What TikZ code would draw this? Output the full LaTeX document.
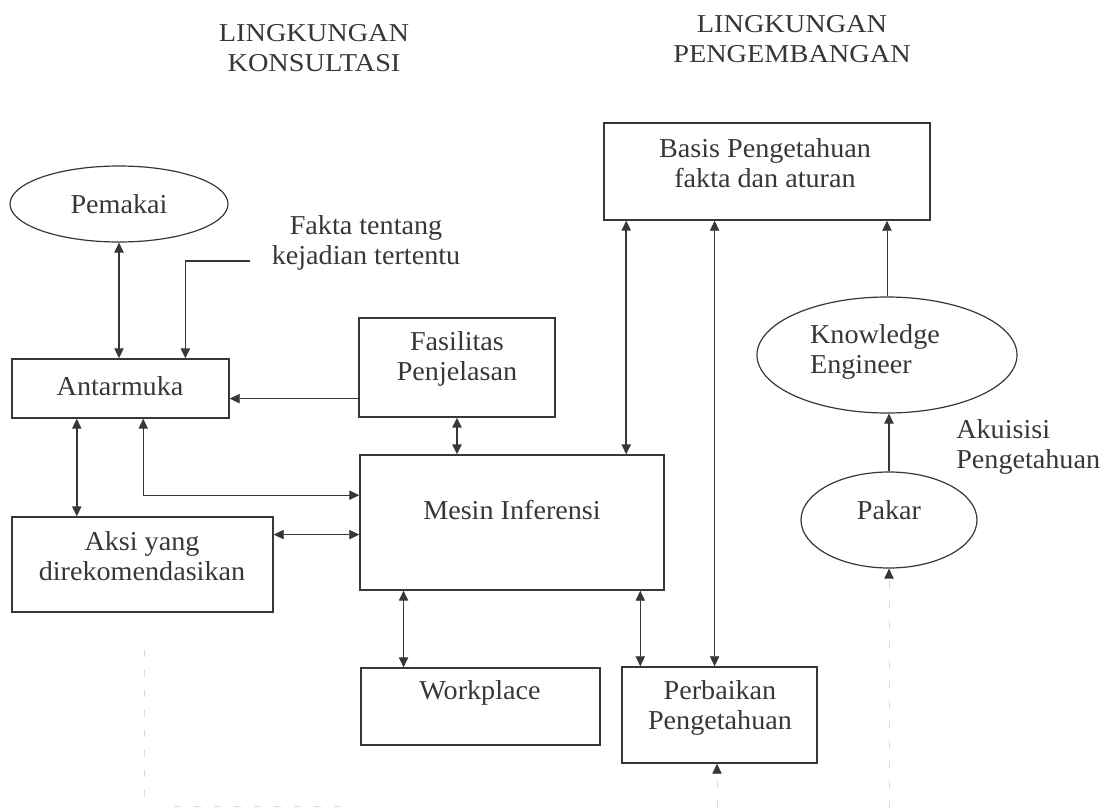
\documentclass[tikz,border=0pt]{standalone}
\usepackage{fontspec}
\setmainfont{Liberation Serif}[FakeStretch=1.03]
\newfontfamily\headfont{Liberation Serif}[FakeStretch=1.1]
\usetikzlibrary{arrows.meta,calc,shapes.geometric,fit}
\definecolor{ink}{RGB}{55,55,55}
\definecolor{faintink}{RGB}{218,218,218}
\begin{document}
\begin{tikzpicture}[x=0.75pt,y=-0.75pt,
  every node/.style={text=ink},
  box/.style={draw=ink,line width=1.1pt,rectangle,inner sep=0pt},
  oval/.style={draw=ink,line width=0.9pt,ellipse,inner sep=0pt},
  lbl/.style={font=\fontsize{20.5}{22}\selectfont,align=center,inner sep=0pt},
  head/.style={font=\headfont\fontsize{19.3}{22}\selectfont,align=center,inner sep=0pt},
  link/.style={draw=ink,line width=0.8pt,>={Triangle[length=7.5pt,width=7pt]}},
  heavy/.style={link,line width=1.3pt},
  light/.style={link,line width=0.6pt},
  faint/.style={draw=faintink,line width=0.6pt,dash pattern=on 5pt off 10pt}
]
\useasboundingbox (0,0) rectangle (1108,810);

% section headings
\node[head] (konsultasi) at (314,48) {LINGKUNGAN\\KONSULTASI};
\node[head] (pengembangan) at (792,39) {LINGKUNGAN\\PENGEMBANGAN};

% consultation environment
\node[oval,minimum width=163.5pt,minimum height=57pt,lbl] (pemakai) at (119,204) {Pemakai};
\node[box,fit={(12,359) (229,418)}] (antarmuka) {};
\node[lbl] (antarmuka-t) at (120,386) {Antarmuka};
\node[lbl] (fakta) at (366,243) {Fakta tentang\\kejadian tertentu};
\node[box,fit={(359,318) (555,417)}] (fasilitas) {};
\node[lbl] (fasilitas-t) at (457,359) {Fasilitas\\Penjelasan};
\node[box,fit={(360,455) (664,590)}] (mesin) {};
\node[lbl] (mesin-t) at (512,510) {Mesin Inferensi};
\node[box,fit={(12,517) (273,612)}] (aksi) {};
\node[lbl] (aksi-t) at (142,556) {Aksi yang\\direkomendasikan};
\node[box,fit={(361,668) (600,745)}] (workplace) {};
\node[lbl] (workplace-t) at (480,693) {Workplace};

% development environment
\node[box,fit={(604,123) (930,220)}] (basis) {};
\node[lbl] (basis-t) at (765,163) {Basis Pengetahuan\\fakta dan aturan};
\node[box,fit={(622,667) (817,763)}] (perbaikan) {};
\node[lbl] (perbaikan-t) at (720,708) {Perbaikan\\Pengetahuan};
\node[oval,minimum width=195pt,minimum height=87pt] (ke) at (887,355) {};
\node[lbl,align=left] (ke-t) at (875,352) {Knowledge\\Engineer};
\node[oval,minimum width=132pt,minimum height=72pt] (pakar) at (889,520) {};
\node[lbl] (pakar-t) at (889,510) {Pakar};
\node[lbl,align=left,anchor=west] (akuisisi) at (956,447) {Akuisisi\\Pengetahuan};

% attachment points along box edges
\coordinate (faktaend) at (250,261);
\coordinate (antF) at ($(antarmuka.north west)!0.797!(antarmuka.north east)$);
\coordinate (fasW) at ($(fasilitas.north west)!0.81!(fasilitas.south west)$);
\coordinate (antA) at ($(antarmuka.south west)!0.30!(antarmuka.south east)$);
\coordinate (antM) at ($(antarmuka.south west)!0.604!(antarmuka.south east)$);
\coordinate (mesW1) at ($(mesin.north west)!0.30!(mesin.south west)$);
\coordinate (aksE) at ($(aksi.north east)!0.19!(aksi.south east)$);
\coordinate (mesS1) at ($(mesin.south west)!0.145!(mesin.south east)$);
\coordinate (mesS2) at ($(mesin.south west)!0.92!(mesin.south east)$);
\coordinate (basS1) at ($(basis.south west)!0.07!(basis.south east)$);
\coordinate (basS2) at ($(basis.south west)!0.34!(basis.south east)$);
\coordinate (perbot) at (717,808);
\coordinate (pakbot) at (889,808);
\coordinate (edgeA) at (144,650);
\coordinate (edgeB) at (144,808);
\coordinate (edgeC) at (350,806);

% connectors
\draw[link,<->] (pemakai.south) -- (pemakai.south |- antarmuka.north);
\draw[heavy,->] (faktaend) -| (antF);
\draw[light,->] (fasW) -- (fasW -| antarmuka.east);
\draw[heavy,<->] (fasilitas.south) -- (fasilitas.south |- mesin.north);
\draw[heavy,<->] (antA) -- (antA |- aksi.north);
\draw[link,<->] (antM) |- (mesW1);
\draw[light,<->] (aksE) -- (aksE -| mesin.west);
\draw[link,<->] (mesS1) -- (mesS1 |- workplace.north);
\draw[heavy,<->] (basS1) -- (basS1 |- mesin.north);
\draw[light,<->] (basS2) -- (basS2 |- perbaikan.north);
\draw[light,<->] (mesS2) -- (mesS2 |- perbaikan.north);
\draw[light,->] (ke.north) -- (ke.north |- basis.south);
\draw[link,->] (pakar.north) -- (pakar.north |- ke.south);
\draw[faint,-{Triangle[length=7.5pt,width=7pt,color=ink]}] (perbot) -- (perbot |- perbaikan.south);
\draw[faint,-{Triangle[length=7.5pt,width=7pt,color=ink]}] (pakbot) -- (pakar.south);
\draw[faint] (edgeA) -- (edgeB);
\draw[faint] (edgeB) ++(30,-2) -- (edgeC);
\end{tikzpicture}
\end{document}
